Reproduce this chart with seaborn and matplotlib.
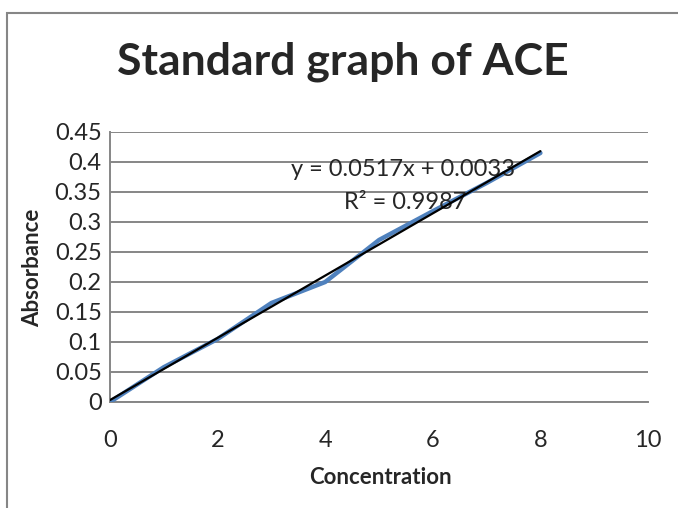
#!/usr/bin/env python3
import numpy as np
import pandas as pd
import matplotlib
matplotlib.use("Agg")
import matplotlib.pyplot as plt
from matplotlib.patches import Rectangle
import seaborn as sns

concentration = [0, 1, 2, 3, 4, 5, 6, 7, 8]
absorbance = [0.0, 0.058, 0.105, 0.165, 0.200, 0.270, 0.318, 0.365, 0.415]
y_ticks = [0, 0.05, 0.1, 0.15, 0.2, 0.25, 0.3, 0.35, 0.4, 0.45]
y_tick_labels = ["0", "0.05", "0.1", "0.15", "0.2", "0.25", "0.3", "0.35", "0.4", "0.45"]
x_ticks = [0, 2, 4, 6, 8, 10]
equation_text = "y = 0.0517x + 0.0033"
r2_text = "R² = 0.9987"

df = pd.DataFrame({"Concentration": concentration, "Absorbance": absorbance})

sns.set_style("white")
plt.rcParams["font.family"] = ["Lato", "DejaVu Sans"]

fig = plt.figure(figsize=(6.78, 5.08), dpi=100)
ax = fig.add_axes([110 / 678, 106 / 508, 538 / 678, 270 / 508])

# chart frame like the Excel chart area
fig.patches.append(Rectangle((7 / 678, -0.05), 1.1, (508 - 13) / 508 + 0.05,
                             transform=fig.transFigure, fill=False,
                             edgecolor="#868686", linewidth=1.5))

sns.lineplot(data=df, x="Concentration", y="Absorbance", ax=ax,
             color="#4F81BD", linewidth=3.2, zorder=3)
sns.regplot(data=df, x="Concentration", y="Absorbance", ax=ax, ci=None,
            scatter=False, color="black", line_kws={"linewidth": 1.6, "zorder": 4})

ax.set_xlim(0, 10)
ax.set_ylim(0, 0.45)
ax.set_xticks(x_ticks)
ax.set_xticklabels([str(t) for t in x_ticks])
ax.set_yticks(y_ticks)
ax.set_yticklabels(y_tick_labels)
ax.tick_params(axis="both", labelsize=17, length=0, pad=6)
ax.tick_params(axis="x", pad=20)
ax.yaxis.grid(True, color="#868686", linewidth=1.4)
ax.xaxis.grid(False)
for side in ["top", "right"]:
    ax.spines[side].set_visible(False)
for side in ["left", "bottom"]:
    ax.spines[side].set_color("#868686")
    ax.spines[side].set_linewidth(1.4)

ax.set_xlabel("")
ax.set_ylabel("")
fig.text(380 / 678, 1 - 477 / 508, "Concentration", fontsize=16,
         fontweight="bold", ha="center", va="center")
fig.text(33 / 678, 1 - 268 / 508, "Absorbance", rotation=90, fontsize=16,
         fontweight="bold", ha="center", va="center")

ax.text(5.45, 0.387, equation_text, fontsize=17, ha="center", va="center")
ax.text(5.48, 0.333, r2_text, fontsize=17, ha="center", va="center")

fig.text(343 / 678, 1 - 62 / 508, "Standard graph of ACE", fontsize=32,
         fontweight="bold", ha="center", va="center")

fig.savefig("out.png", dpi=100)
